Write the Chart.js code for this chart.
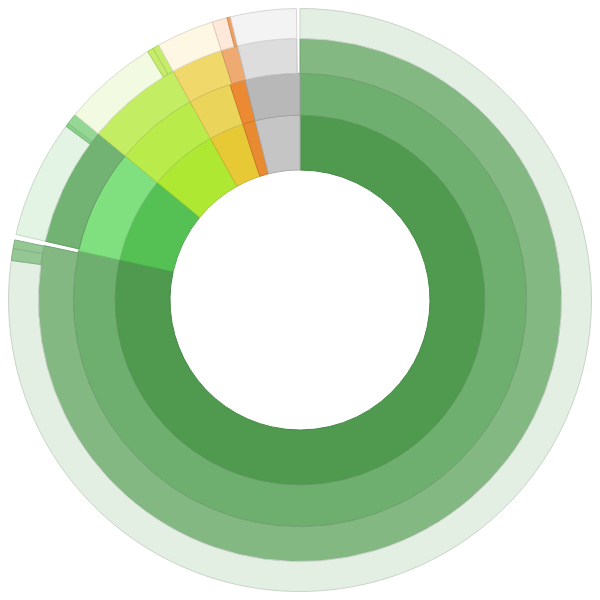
<!DOCTYPE html>
<html lang="en">
<head>
    <meta charset="UTF-8">
    <title>Sunburst</title>
    <script src="https://cdn.jsdelivr.net/npm/chart.js"></script>
    <style>
        body { margin: 0; background: #fff; }
        .box { width: 600px; height: 600px; }
    </style>
</head>
<body>
    <div class="box">
        <canvas id="myChart"></canvas>
    </div>
<script>
    // angular shares (degrees) for each ring, inner to outer
    const ring1Labels = ['A', 'B', 'C', 'D', 'E', 'F'];
    const ring1Values = [282.5, 27, 21.5, 11, 4, 14];

    const ring2Labels = ['A.1', 'B.1', 'C.1', 'D.1', 'E.1', 'F.1'];
    const ring2Values = [282.5, 27, 21.5, 11, 4, 14];

    const ring3Labels = ['A.1.1', '', 'B.1.1', 'C.1.1', 'D.1.1', 'E.1.1', 'F.1.1', ''];
    const ring3Values = [282, 1, 26.5, 21.5, 11.5, 3.7, 13.1, 0.7];

    const ring4Labels = ['A.1.1.1', 'A.1.1.2', 'A.1.1.3', '', 'B.1.1.1', 'B.1.1.2', 'B.1.1.3',
        'C.1.1.1', 'C.1.1.2', 'C.1.1.3', 'D.1.1.1', 'E.1.1.1', 'E.1.1.2', 'F.1.1.1', ''];
    const ring4Values = [277.8, 2.4, 1.7, 1.1, 23.6, 0.7, 2.2, 19, 1.2, 1.3, 11.5, 3.0, 0.7, 13.1, 0.7];

    // colours (kept apart from the data), null = empty gap
    const ring1Colors = ['#4f9a4f', '#55c155', '#aee833', '#e6c935', '#e88a2f', '#c5c5c5'];
    const ring2Colors = ['#6eae6e', '#80e080', '#b9eb4b', '#ead55a', '#eb8a33', '#b8b8b8'];
    const ring3Colors = ['#83b883', null, '#72b272', '#c3ed63', '#f0d86a', '#eeaa70', '#dddddd', null];
    const ring4Colors = ['#e4efe4', '#95c795', '#95c795', null, '#e4f4e4', '#88d088', '#95d895',
        '#f2fae2', '#c5ec6a', '#c5ec6a', '#fdf7e3', '#fde8da', '#f0a060', '#f3f3f3', null];

    // fundo: null vira transparente
    function fundo(cores) {
        return cores.map(c => c || 'rgba(0,0,0,0)');
    }

    // borda um pouco mais escura do mesmo tom
    function bordas(cores) {
        return cores.map(c => {
            if (!c) return 'rgba(0,0,0,0)';
            const n = parseInt(c.slice(1), 16);
            const r = Math.round(((n >> 16) & 255) * 0.88);
            const g = Math.round(((n >> 8) & 255) * 0.88);
            const b = Math.round((n & 255) * 0.88);
            return `rgb(${r},${g},${b})`;
        });
    }

    const ctx = document.getElementById('myChart').getContext('2d');

    // dataset 0 is the outermost ring in Chart.js
    const myChart = new Chart(ctx, {
        type: 'doughnut',
        data: {
            labels: ring4Labels,
            datasets: [
                { labels: ring4Labels, data: ring4Values, backgroundColor: fundo(ring4Colors), borderColor: bordas(ring4Colors), borderWidth: 1, weight: 30 },
                { labels: ring3Labels, data: ring3Values, backgroundColor: fundo(ring3Colors), borderColor: bordas(ring3Colors), borderWidth: 1, weight: 35 },
                { labels: ring2Labels, data: ring2Values, backgroundColor: fundo(ring2Colors), borderColor: bordas(ring2Colors), borderWidth: 1, weight: 42 },
                { labels: ring1Labels, data: ring1Values, backgroundColor: fundo(ring1Colors), borderColor: bordas(ring1Colors), borderWidth: 1, weight: 55 }
            ]
        },
        options: {
            responsive: true,
            maintainAspectRatio: false,
            animation: false,
            cutout: 130,
            layout: { padding: 8 },
            plugins: {
                legend: { display: false },
                tooltip: { enabled: false }
            }
        }
    });
</script>
</body>
</html>
